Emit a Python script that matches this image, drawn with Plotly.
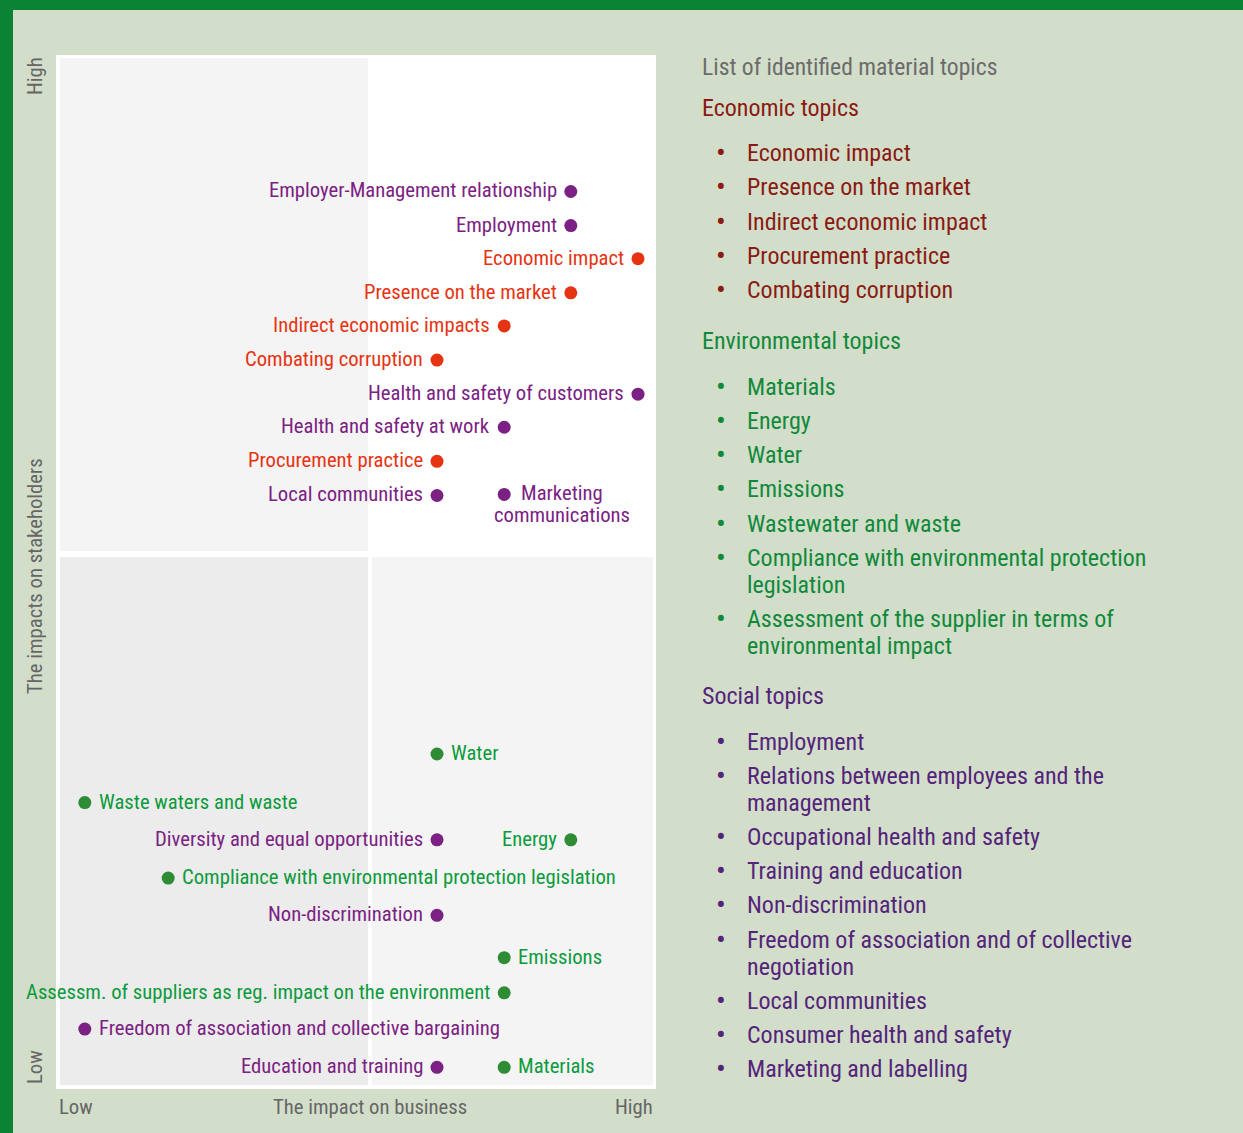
import plotly.graph_objects as go

# ---------------- data ----------------
# impact on business (x, 0-100) and impact on stakeholders (y, 0-100)
topics = [
    "Employer-Management relationship", "Employment", "Economic impact",
    "Presence on the market", "Indirect economic impacts", "Combating corruption",
    "Health and safety of customers", "Health and safety at work",
    "Procurement practice", "Local communities", "Marketing<br>communications",
    "Water", "Waste waters and waste", "Diversity and equal opportunities", "Energy",
    "Compliance with environmental protection legislation", "Non-discrimination",
    "Emissions", "Assessm. of suppliers as reg. impact on the environment",
    "Freedom of association and collective bargaining", "Education and training",
    "Materials",
]
business = [85.8, 85.8, 97.0, 85.8, 74.7, 63.5, 97.0, 74.7, 63.5, 63.5, 74.7,
            63.5, 4.8, 63.5, 85.8, 18.7, 63.5, 74.7, 74.7, 4.8, 63.5, 74.7]
stakeholders = [86.8, 83.5, 80.3, 77.0, 73.8, 70.5, 67.2, 64.0, 60.7, 57.4, 57.5,
                32.4, 27.7, 24.1, 24.1, 20.4, 16.8, 12.7, 9.3, 5.8, 2.1, 2.1]
category = ["soc", "soc", "eco", "eco", "eco", "eco", "soc", "soc", "eco", "soc", "soc",
            "env", "env", "soc", "env", "env", "soc", "env", "env", "soc", "soc", "env"]
label_side = ["L", "L", "L", "L", "L", "L", "L", "L", "L", "L", "R",
              "R", "R", "L", "L", "R", "L", "R", "L", "R", "L", "R"]

list_title = "List of identified material topics"
eco_title = "Economic topics"
eco_items = ["Economic impact", "Presence on the market", "Indirect economic impact",
             "Procurement practice", "Combating corruption"]
env_title = "Environmental topics"
env_items = ["Materials", "Energy", "Water", "Emissions", "Wastewater and waste",
             "Compliance with environmental protection<br>legislation",
             "Assessment of the supplier in terms of<br>environmental impact"]
soc_title = "Social topics"
soc_items = ["Employment", "Relations between employees and the<br>management",
             "Occupational health and safety", "Training and education",
             "Non-discrimination", "Freedom of association and of collective<br>negotiation",
             "Local communities", "Consumer health and safety", "Marketing and labelling"]

x_axis_ticks = ["Low", "The impact on business", "High"]
y_axis_ticks = ["Low", "The impacts on stakeholders", "High"]

# ---------------- style ----------------
W, H = 1243, 1133
L, R, T, B = 56, 656, 55, 1089
BG = "#d2deca"
DARKGREEN = "#0a8434"
FONT = "Roboto Condensed, Liberation Sans Narrow, Roboto, sans-serif"
dot_colors = {"eco": "#e63312", "soc": "#7b2183", "env": "#2e8c35"}
text_colors = {"eco": "#e63312", "soc": "#7b2183", "env": "#0b9b3c"}
AXGRAY = "#666666"
LBL = 20.7


def px(xp):
    return (xp - L) / (R - L)


def py(yp):
    return (B - yp) / (B - T)


fig = go.Figure()

for cat in ["eco", "soc", "env"]:
    idx = [i for i, c in enumerate(category) if c == cat]
    fig.add_trace(go.Scatter(
        x=[business[i] for i in idx], y=[stakeholders[i] for i in idx],
        mode="markers", marker=dict(size=13, color=dot_colors[cat]),
        hovertext=[topics[i].replace("<br>", " ") for i in idx], hoverinfo="text",
        showlegend=False,
    ))

annotations = []
for t, xv, yv, c, s in zip(topics, business, stakeholders, category, label_side):
    lines = t.split("<br>")
    if len(lines) > 1:
        for k, ln in enumerate(lines):
            annotations.append(dict(x=xv, y=yv, xref="x", yref="y", text=ln, showarrow=False,
                                    xanchor="center", yanchor="middle",
                                    xshift=58, yshift=1 - 22 * k,
                                    font=dict(family=FONT, size=LBL, color=text_colors[c])))
    else:
        annotations.append(dict(x=xv, y=yv, xref="x", yref="y", text=t, showarrow=False,
                                xanchor="right" if s == "L" else "left", yanchor="middle",
                                xshift=-12 if s == "L" else 12, yshift=1,
                                font=dict(family=FONT, size=LBL, color=text_colors[c])))

# axis captions
annotations.append(dict(x=px(57), y=py(1107), xref="paper", yref="paper", text=x_axis_ticks[0],
                        showarrow=False, xanchor="left", yanchor="middle",
                        font=dict(family=FONT, size=LBL, color=AXGRAY)))
annotations.append(dict(x=px(370), y=py(1107), xref="paper", yref="paper", text=x_axis_ticks[1],
                        showarrow=False, xanchor="center", yanchor="middle",
                        font=dict(family=FONT, size=LBL, color=AXGRAY)))
annotations.append(dict(x=px(655), y=py(1107), xref="paper", yref="paper", text=x_axis_ticks[2],
                        showarrow=False, xanchor="right", yanchor="middle",
                        font=dict(family=FONT, size=LBL, color=AXGRAY)))
for txt, ypix in zip(y_axis_ticks, [1067, 576, 76]):
    annotations.append(dict(x=px(35), y=py(ypix), xref="paper", yref="paper", text=txt,
                            showarrow=False, textangle=-90, xanchor="center", yanchor="middle",
                            font=dict(family=FONT, size=LBL, color=AXGRAY)))

# right-hand list
LIST_X, BUL_X, ITEM_X = 700, 721, 745
LINE_GAP = 27


def head(txt, ypix, color, size=24):
    annotations.append(dict(x=px(LIST_X), y=py(ypix), xref="paper", yref="paper", text=txt,
                            showarrow=False, xanchor="left", yanchor="middle",
                            font=dict(family=FONT, size=size, color=color)))


def item(txt, ypix, color):
    annotations.append(dict(x=px(BUL_X), y=py(ypix), xref="paper", yref="paper", text="•",
                            showarrow=False, xanchor="center", yanchor="middle",
                            font=dict(family=FONT, size=29, color=color)))
    for k, ln in enumerate(txt.split("<br>")):
        annotations.append(dict(x=px(ITEM_X), y=py(ypix + LINE_GAP * k), xref="paper",
                                yref="paper", text=ln, showarrow=False, xanchor="left",
                                yanchor="middle", font=dict(family=FONT, size=24, color=color)))


head(list_title, 67, "#6b6b6b", 23.6)
ECO, ENV, SOC = "#8a1a12", "#11893a", "#54247a"
head(eco_title, 108, ECO)
for t, yy in zip(eco_items, [153, 187, 222, 256, 290]):
    item(t, yy, ECO)
head(env_title, 341, ENV)
for t, yy in zip(env_items, [387, 421, 455, 489, 524, 558, 619]):
    item(t, yy, ENV)
head(soc_title, 696, SOC)
for t, yy in zip(soc_items, [742, 776, 837, 871, 905, 940, 1001, 1035, 1069]):
    item(t, yy, SOC)

shapes = [
    # green border
    dict(type="rect", xref="paper", yref="paper", x0=px(0), x1=px(W), y0=py(10), y1=py(0),
         fillcolor=DARKGREEN, line_width=0, layer="below"),
    dict(type="rect", xref="paper", yref="paper", x0=px(0), x1=px(13), y0=py(H), y1=py(0),
         fillcolor=DARKGREEN, line_width=0, layer="below"),
    # quadrants
    dict(type="rect", xref="paper", yref="paper", x0=px(60), x1=px(368), y0=py(551), y1=py(58),
         fillcolor="#f4f4f4", line_width=0, layer="below"),
    dict(type="rect", xref="paper", yref="paper", x0=px(60), x1=px(368), y0=py(1085), y1=py(557),
         fillcolor="#ececec", line_width=0, layer="below"),
    dict(type="rect", xref="paper", yref="paper", x0=px(372), x1=px(653), y0=py(1085), y1=py(557),
         fillcolor="#f4f4f4", line_width=0, layer="below"),
]

fig.update_layout(
    width=W, height=H,
    margin=dict(l=L, r=W - R, t=T, b=H - B, pad=0),
    paper_bgcolor=BG, plot_bgcolor="white",
    xaxis=dict(range=[0, 100], visible=False, fixedrange=True),
    yaxis=dict(range=[0, 100], visible=False, fixedrange=True),
    annotations=annotations, shapes=shapes,
    font=dict(family=FONT),
)

fig.write_html(
    "out.html",
    config={"displayModeBar": False},
    post_script="document.body.style.margin='0';document.body.style.overflow='hidden';",
)
